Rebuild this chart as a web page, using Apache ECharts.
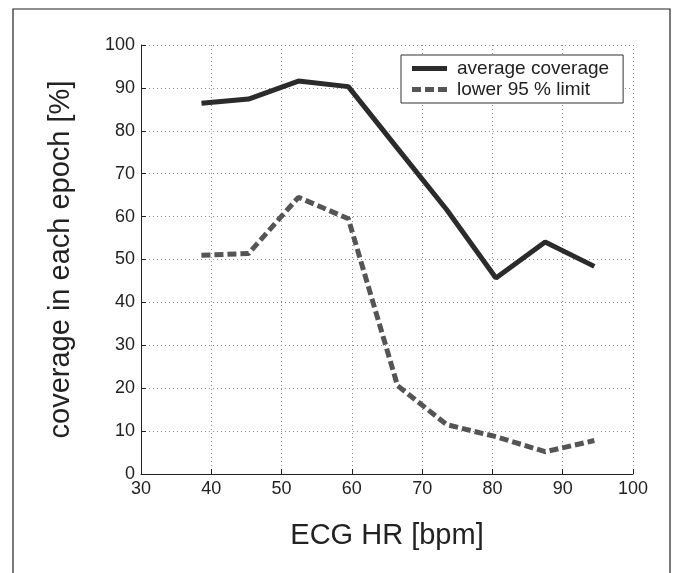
<!DOCTYPE html>
<html>
<head>
<meta charset="utf-8">
<script src="https://cdn.jsdelivr.net/npm/echarts@6/dist/echarts.min.js"></script>
<style>
  html, body { margin: 0; padding: 0; background: #fff; }
  #chart { width: 678px; height: 573px; }
</style>
</head>
<body>
<div id="chart"></div>
<script>
// heart rate bins (bpm)
var hr = [38.6, 45.3, 52.4, 59.5, 66.5, 73.5, 80.5, 87.5, 94.5];
// coverage values (%)
var avgCoverage = [86.4, 87.4, 91.6, 90.3, 75.9, 61.6, 45.7, 54.1, 48.4];
var lower95 = [51.0, 51.4, 64.5, 59.5, 20.6, 11.5, 8.7, 5.2, 7.8];
var seriesNames = ['average coverage', 'lower 95 % limit'];

var font = '"Liberation Sans", Arial, Helvetica, sans-serif';

function pairs(xs, ys) {
  return xs.map(function (x, i) { return [x, ys[i]]; });
}

var myChart = echarts.init(document.getElementById('chart'));
var option = {
  animation: false,
  backgroundColor: '#fff',
  textStyle: { fontFamily: font, color: '#222' },
  graphic: [{
    type: 'rect',
    shape: { x: 13, y: 9, width: 657, height: 600 },
    style: { fill: 'none', stroke: '#222', lineWidth: 1.2 },
    silent: true
  }],
  grid: { left: 141, right: 45, top: 45, bottom: 99, containLabel: false },
  legend: {
    orient: 'vertical',
    left: 401,
    top: 55,
    padding: [4, 14, 4, 11],
    itemGap: 2,
    itemWidth: 35,
    itemHeight: 5,
    borderColor: '#333',
    borderWidth: 1,
    backgroundColor: '#fff',
    textStyle: { fontFamily: font, fontSize: 19, lineHeight: 19, color: '#222', padding: [0, 0, 0, 5] },
    data: [
      { name: seriesNames[0], icon: 'rect' },
      { name: seriesNames[1], icon: 'path://M0,0h9v5h-9zM13,0h9v5h-9zM26,0h9v5h-9z' }
    ]
  },
  xAxis: {
    type: 'value',
    min: 30, max: 100, interval: 10,
    name: 'ECG HR [bpm]',
    nameLocation: 'middle',
    nameGap: 47,
    nameTextStyle: { fontFamily: font, fontSize: 29, color: '#222' },
    axisLine: { show: true, lineStyle: { color: '#222', width: 1 } },
    axisTick: { show: true, inside: true, length: 5, lineStyle: { color: '#222' } },
    axisLabel: { fontFamily: font, fontSize: 18, color: '#222', margin: 6 },
    splitLine: { show: true, lineStyle: { color: '#888', width: 1, type: [1, 3] } }
  },
  yAxis: {
    type: 'value',
    min: 0, max: 100, interval: 10,
    name: 'coverage in each epoch [%]',
    nameLocation: 'middle',
    nameGap: 66,
    nameTextStyle: { fontFamily: font, fontSize: 29, color: '#222' },
    axisLine: { show: true, lineStyle: { color: '#222', width: 1 } },
    axisTick: { show: true, inside: true, length: 5, lineStyle: { color: '#222' } },
    axisLabel: { fontFamily: font, fontSize: 18, color: '#222', margin: 6 },
    splitLine: { show: true, lineStyle: { color: '#888', width: 1, type: [1, 3] } }
  },
  series: [{
    name: seriesNames[0],
    type: 'line',
    data: pairs(hr, avgCoverage),
    symbol: 'none',
    color: '#2b2b2b',
    lineStyle: { color: '#2b2b2b', width: 5 }
  }, {
    name: seriesNames[1],
    type: 'line',
    data: pairs(hr, lower95),
    symbol: 'none',
    color: '#555',
    lineStyle: { color: '#555', width: 5, type: [9, 4] }
  }]
};
myChart.setOption(option);
window.addEventListener('resize', function () {
  myChart.resize();
});
</script>
</body>
</html>
